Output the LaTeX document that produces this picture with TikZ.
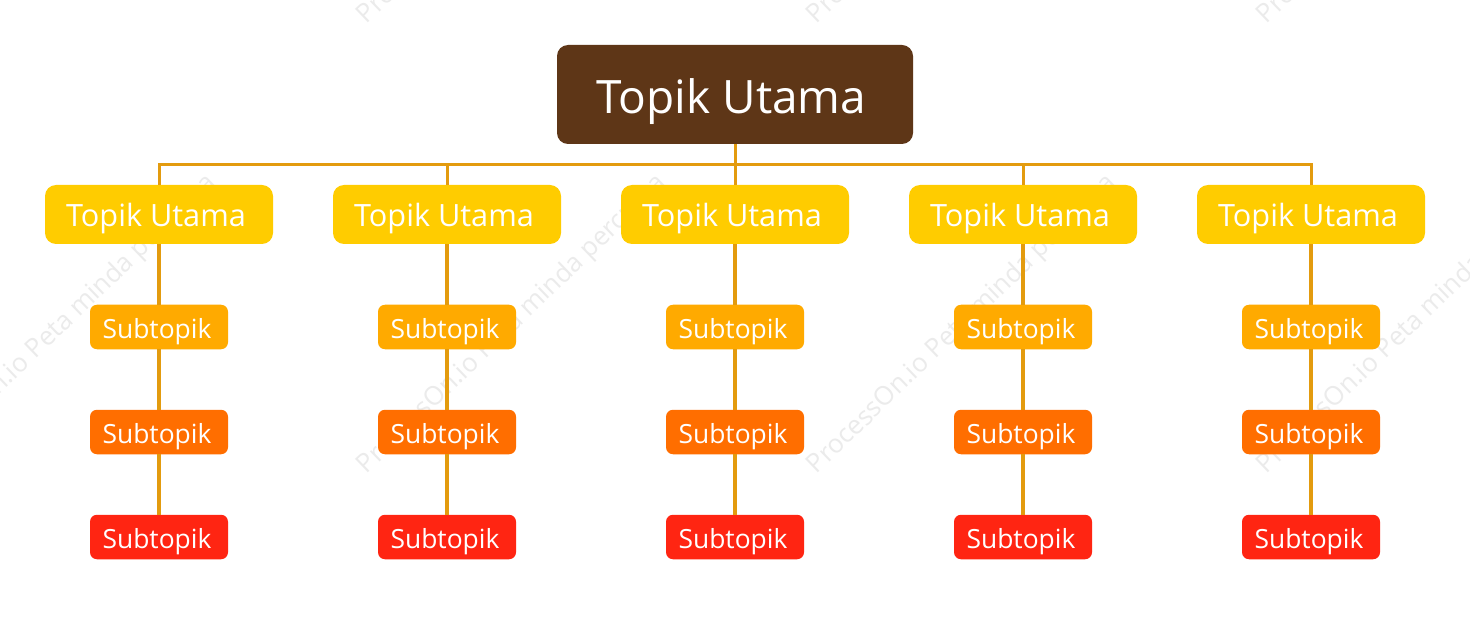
\documentclass[tikz,border=0pt]{standalone}
\usepackage{fontspec}
\setmainfont{Open Sans}
\definecolor{rootc}{HTML}{5E3617}
\definecolor{topc}{HTML}{FFCC00}
\definecolor{suba}{HTML}{FFAA00}
\definecolor{subb}{HTML}{FF6E00}
\definecolor{subc}{HTML}{FF2512}
\definecolor{linkc}{HTML}{E39B0E}
\definecolor{wmc}{HTML}{EBEBEB}
\newcommand{\boxlabel}[3]{\smash{\raisebox{-#2pt}{#1}}\hspace{#3pt}\mbox{}}
\tikzset{
  rootbox/.style={fill=rootc,rounded corners=11pt,minimum width=356pt,minimum height=99pt,inner sep=0pt,text=white,font=\fontsize{46}{46}\selectfont},
  topbox/.style={fill=topc,rounded corners=11pt,minimum width=228pt,minimum height=59pt,inner sep=0pt,text=white,font=\fontsize{30.7}{30.7}\selectfont},
  subbox/.style={rounded corners=7pt,minimum width=138pt,minimum height=44.5pt,inner sep=0pt,text=white,font=\fontsize{26.4}{26.4}\selectfont},
  thinlink/.style={draw=linkc,line width=3pt},
  thicklink/.style={draw=linkc,line width=4pt},
  wm/.style={text=wmc,rotate=44,anchor=west,inner sep=0pt,font=\fontsize{26}{26}\selectfont}
}
\begin{document}
\begin{tikzpicture}[x=1pt,y=-1pt]
\useasboundingbox (0,0) rectangle (1470,620);
\fill[white] (0,0) rectangle (1470,620);
% watermark
\foreach \i/\wx/\wy in {1/-88/470,2/362/470,3/812/470,4/1262/470,5/362/20,6/812/20,7/1262/20}
  \node[wm] (wm\i) at (\wx,\wy) {ProcessOn.io Peta minda percuma};
% nodes
\node[rootbox] (root) at (735,94.5) {\boxlabel{Topik Utama}{19}{7}};
\coordinate (bus) at (735,164.5);
\foreach \c/\x in {1/159,2/447,3/735,4/1023,5/1311} {
  \node[topbox] (t\c) at (\x,214.5) {\boxlabel{Topik Utama}{12.5}{6}};
  \node[subbox,fill=suba] (a\c) at (\x,327) {\boxlabel{Subtopik}{11.5}{4}};
  \node[subbox,fill=subb] (b\c) at (\x,432) {\boxlabel{Subtopik}{11.5}{4}};
  \node[subbox,fill=subc] (c\c) at (\x,537) {\boxlabel{Subtopik}{11.5}{4}};
}
% connectors
\draw[thinlink] (root.south) -- (bus);
\draw[thinlink,line cap=rect] (t1.north |- bus) -- (t5.north |- bus);
\foreach \c in {1,...,5} {
  \draw[thinlink] (t\c.north |- bus) -- (t\c.north);
  \draw[thicklink] (t\c.south) -- (a\c.north);
  \draw[thicklink] (a\c.south) -- (b\c.north);
  \draw[thicklink] (b\c.south) -- (c\c.north);
}
\end{tikzpicture}
\end{document}
